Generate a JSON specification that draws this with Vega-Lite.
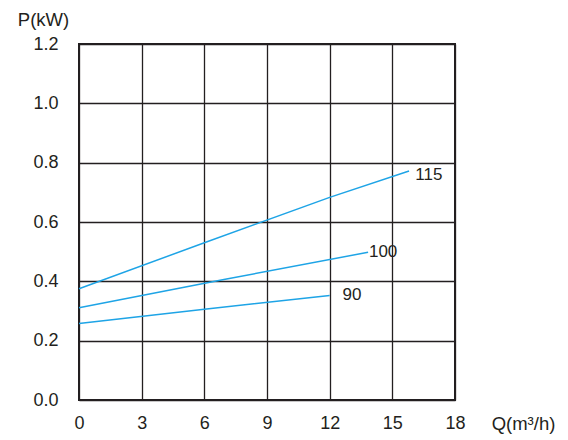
{
  "$schema": "https://vega.github.io/schema/vega-lite/v6.json",
  "autosize": "none",
  "width": 376,
  "height": 356,
  "padding": {"left": 79, "top": 44, "right": 113, "bottom": 40},
  "background": "white",
  "config": {
    "font": "Liberation Sans",
    "view": {"stroke": "#231f20", "strokeWidth": 2},
    "axis": {
      "grid": true,
      "gridColor": "#231f20",
      "gridWidth": 1.3,
      "gridOpacity": 1,
      "domain": false,
      "ticks": false,
      "labelFlush": false,
      "labelOverlap": false,
      "labelFont": "Liberation Sans",
      "labelFontSize": 18,
      "labelColor": "#231f20",
      "titleFont": "Liberation Sans",
      "titleFontSize": 18.5,
      "titleFontWeight": "normal",
      "titleColor": "#231f20"
    }
  },
  "datasets": {
    "curves": [
      {"Q": 0, "P": 0.375, "curve": "115"},
      {"Q": 6, "P": 0.53, "curve": "115"},
      {"Q": 12, "P": 0.683, "curve": "115"},
      {"Q": 15.8, "P": 0.772, "curve": "115"},
      {"Q": 0, "P": 0.311, "curve": "100"},
      {"Q": 7, "P": 0.407, "curve": "100"},
      {"Q": 13.84, "P": 0.498, "curve": "100"},
      {"Q": 0, "P": 0.258, "curve": "90"},
      {"Q": 6, "P": 0.306, "curve": "90"},
      {"Q": 12, "P": 0.352, "curve": "90"}
    ],
    "labels": [
      {"Q": 16.1, "P": 0.758, "label": "115"},
      {"Q": 13.88, "P": 0.499, "label": "100"},
      {"Q": 12.62, "P": 0.354, "label": "90"}
    ]
  },
  "layer": [
    {
      "data": {"name": "curves"},
      "mark": {"type": "line", "color": "#1ea4e6", "strokeWidth": 1.5},
      "encoding": {
        "x": {
          "field": "Q", "type": "quantitative",
          "scale": {"domain": [0, 18], "nice": false, "zero": false},
          "axis": {
            "values": [0, 3, 6, 9, 12, 15, 18],
            "labelPadding": 14,
            "title": "Q(m³/h)",
            "titleX": 444,
            "titleY": 23,
            "titleAlign": "center",
            "titleBaseline": "middle"
          }
        },
        "y": {
          "field": "P", "type": "quantitative",
          "scale": {"domain": [0, 1.2], "nice": false},
          "axis": {
            "values": [0, 0.2, 0.4, 0.6, 0.8, 1.0, 1.2],
            "format": ".1f",
            "labelPadding": 21,
            "title": "P(kW)",
            "titleAngle": 0,
            "titleX": -36,
            "titleY": -25,
            "titleAlign": "center",
            "titleBaseline": "middle"
          }
        },
        "detail": {"field": "curve"}
      }
    },
    {
      "data": {"name": "labels"},
      "mark": {"type": "text", "align": "left", "baseline": "middle", "fontSize": 17, "font": "Liberation Sans", "color": "#231f20"},
      "encoding": {
        "x": {"field": "Q", "type": "quantitative"},
        "y": {"field": "P", "type": "quantitative"},
        "text": {"field": "label"}
      }
    }
  ]
}
